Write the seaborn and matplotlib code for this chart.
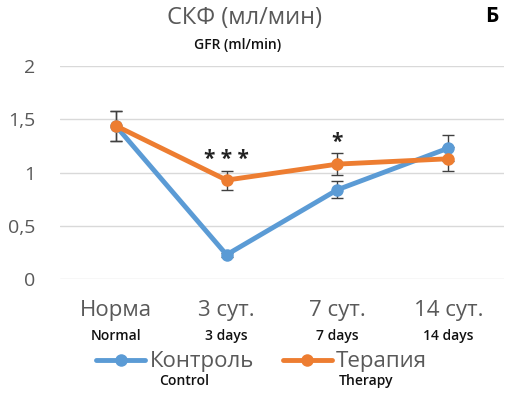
import numpy as np
import pandas as pd
import matplotlib
matplotlib.use("Agg")
import matplotlib.pyplot as plt
import seaborn as sns

# данные
days_ru = ["Норма", "3 сут.", "7 сут.", "14 сут."]
days_en = ["Normal", "3 days", "7 days", "14 days"]
control = [1.44, 0.23, 0.84, 1.23]
control_err = [0.14, 0.02, 0.08, 0.12]
therapy = [1.44, 0.93, 1.08, 1.13]
therapy_err = [0.14, 0.09, 0.10, 0.11]
stars = ["", "* * *", "*", ""]

df = pd.DataFrame({
    "pos": list(range(4)) * 2,
    "gfr": control + therapy,
    "err": control_err + therapy_err,
    "group": ["Контроль"] * 4 + ["Терапия"] * 4,
})

sns.set_theme(style="white")
plt.rcParams["font.family"] = ["Open Sans", "DejaVu Sans"]

grey = "#595959"
palette = {"Контроль": "#5B9BD5", "Терапия": "#ED7D31"}

fig = plt.figure(figsize=(5.1, 3.96), dpi=100)
ax = fig.add_axes([0.118, 0.2947, 0.870, 0.5387])

for name, sub in df.groupby("group"):
    ax.errorbar(sub["pos"], sub["gfr"], yerr=sub["err"], fmt="none",
                ecolor="#404040", elinewidth=1, capsize=4, capthick=1, zorder=1)

sns.lineplot(data=df, x="pos", y="gfr", hue="group", palette=palette,
             marker="o", markersize=9, markeredgewidth=0, linewidth=3.5,
             ax=ax, zorder=3, legend=True)

for i, s in enumerate(stars):
    if s:
        top = max(therapy[i] + therapy_err[i], control[i] + control_err[i])
        ax.text(i, top + 0.1, s, ha="center", va="center", fontsize=15,
                fontweight="bold", color="#222222")

ax.set_xlim(-0.5, 3.5)
ax.set_ylim(0, 2)
ax.set_yticks([0, 0.5, 1, 1.5, 2])
ax.set_yticklabels(["0", "0,5", "1", "1,5", "2"])
ax.set_xticks(range(4))
ax.set_xticklabels(days_ru)
ax.tick_params(axis="both", length=0, labelsize=14, labelcolor=grey)
ax.tick_params(axis="x", labelsize=16, pad=15)
ax.tick_params(axis="y", pad=18)
ax.yaxis.grid(True, color="#d9d9d9", linewidth=1)
for sp in ax.spines.values():
    sp.set_visible(False)
ax.set_xlabel("")
ax.set_ylabel("")

for i, lab in enumerate(days_en):
    ax.text(i, -0.266, lab, transform=ax.get_xaxis_transform(), ha="center",
            va="center", fontsize=10, fontweight="semibold", color="#111111")

ax.legend_.remove()
handles, labels = ax.get_legend_handles_labels()
fig.legend(handles, labels, loc="center", bbox_to_anchor=(0.513, 1 - 362 / 396),
           ncol=2, frameon=False, fontsize=16, handlelength=2.2,
           handletextpad=0.2, columnspacing=1.3, labelcolor=grey)
fig.text(184 / 510, 1 - 381 / 396, "Control", ha="center", va="center",
         fontsize=10, fontweight="semibold", color="#111111")
fig.text(366 / 510, 1 - 381 / 396, "Therapy", ha="center", va="center",
         fontsize=10, fontweight="semibold", color="#111111")

fig.text(245 / 510, 1 - 18 / 396, "СКФ (мл/мин)", ha="center", va="center",
         fontsize=17, color=grey)
fig.text(238 / 510, 1 - 45 / 396, "GFR (ml/min)", ha="center", va="center",
         fontsize=10, fontweight="semibold", color="#111111")
fig.text(492 / 510, 1 - 16 / 396, "Б", ha="center", va="center",
         fontsize=15, fontweight="bold", color="black")

fig.savefig("out.png", dpi=100)
